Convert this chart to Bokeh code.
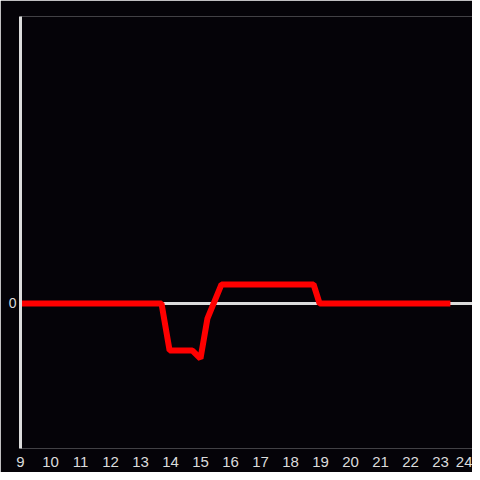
from bokeh.plotting import figure
from bokeh.models import Span, FixedTicker, Range1d
from bokeh.embed import file_html
from bokeh.resources import INLINE

# data (hour of day, value)
hours = [9.0, 13.7, 13.97, 14.73, 15.0, 15.23, 15.7, 18.77, 18.97, 23.33]
values = [0.0, 0.0, -4.95, -4.95, -5.8, -1.6, 2.0, 2.0, 0.0, 0.0]
x_ticks = list(range(9, 25))
y_ticks = [0]

BG = "#050308"
FG = "#dcdcdc"

p = figure(width=472, height=472, output_backend="svg", toolbar_location=None,
           x_range=Range1d(9, 24.067), y_range=Range1d(-15.26, 30.2),
           min_border_left=20, min_border_right=0, min_border_top=16, min_border_bottom=24)
p.background_fill_color = BG
p.border_fill_color = BG
p.outline_line_color = None
p.xgrid.visible = False
p.ygrid.visible = False

p.add_layout(Span(location=0, dimension="width", line_color=FG, line_width=3, level="underlay"))

p.line(hours, values, line_color="#ff0000", line_width=6)

xa = p.xaxis[0]
xa.ticker = FixedTicker(ticks=x_ticks)
xa.axis_line_color = None
xa.major_tick_line_color = None
xa.minor_tick_line_color = None
xa.major_label_text_color = FG
xa.major_label_text_font = "Liberation Sans"
xa.major_label_text_font_size = "15px"
xa.major_label_standoff = 2

ya = p.yaxis[0]
ya.ticker = FixedTicker(ticks=y_ticks)
ya.axis_line_color = FG
ya.axis_line_width = 3
ya.major_tick_line_color = None
ya.minor_tick_line_color = None
ya.major_tick_out = 0
ya.major_label_text_color = FG
ya.major_label_text_font = "Liberation Sans"
ya.major_label_text_font_size = "14px"
ya.major_label_standoff = 4

open("out.html", "w").write(file_html(p, INLINE))
